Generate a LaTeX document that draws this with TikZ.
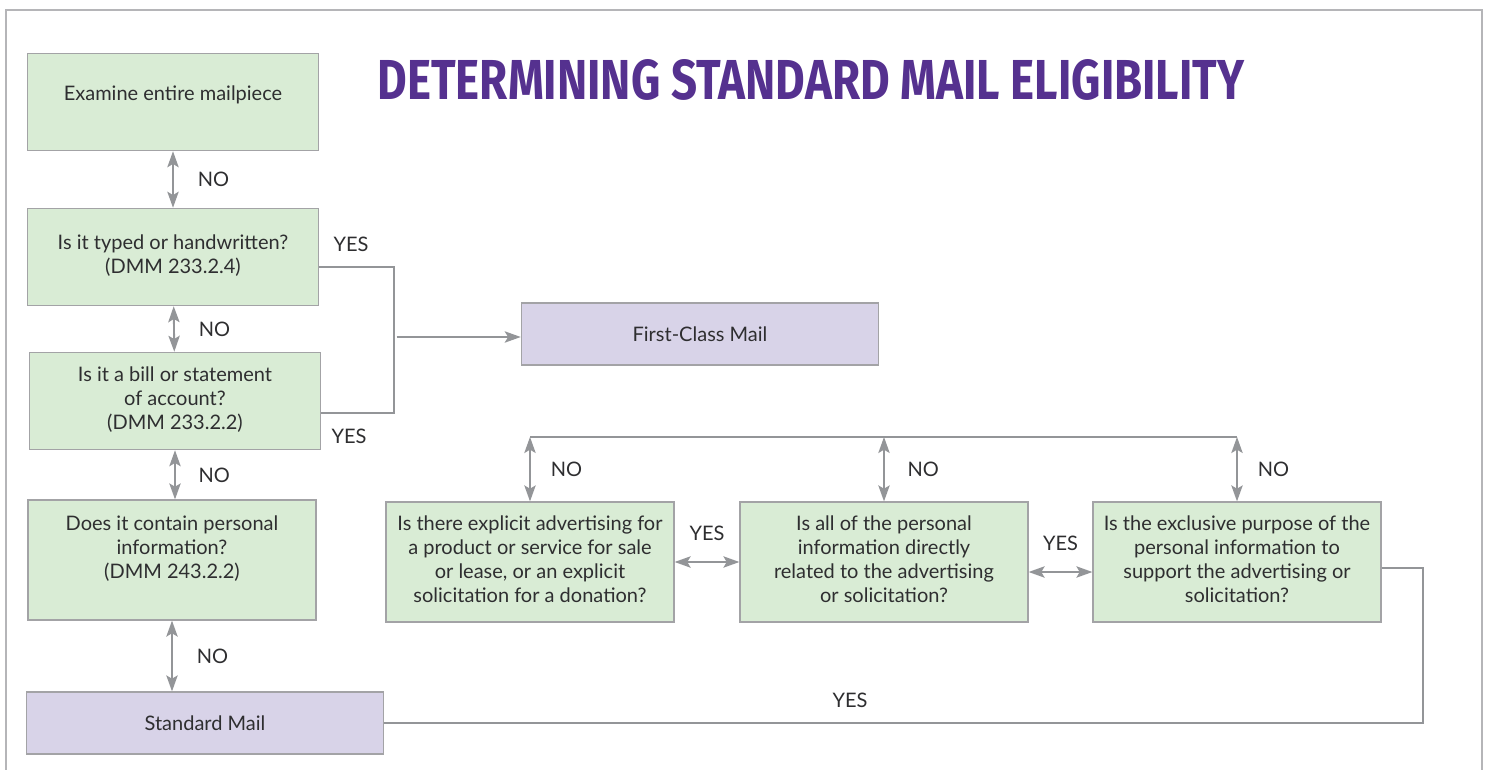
\documentclass[tikz,border=0pt]{standalone}
\usepackage{fontspec}
\setmainfont{Lato}
\newfontfamily\titlefont{Fira Sans}
\usepackage{tikz}
\usetikzlibrary{positioning}
\usetikzlibrary{arrows.meta}

\definecolor{qgreen}{HTML}{D9ECD5}
\definecolor{mailpurple}{HTML}{D8D3E8}
\definecolor{boxgray}{HTML}{A3A3A6}
\definecolor{linegray}{HTML}{939598}
\definecolor{titlepurple}{HTML}{55318F}
\definecolor{txtgray}{HTML}{2E2E30}

\begin{document}
\begin{tikzpicture}[x=0.75pt,y=-0.75pt,text=txtgray,
  qbox/.style={draw=boxgray,line width=0.9pt,fill=qgreen,inner sep=0pt,minimum width=218pt,minimum height=73pt},
  tallbox/.style={qbox,minimum width=216pt,minimum height=90pt},
  mailbox/.style={draw=boxgray,line width=0.9pt,fill=mailpurple,inner sep=0pt,minimum width=268pt,minimum height=46.5pt},
  conn/.style={draw=linegray,line width=1.4pt},
  twoway/.style={conn,{Stealth[length=12pt,width=8.5pt,inset=2.5pt]}-{Stealth[length=12pt,width=8.5pt,inset=2.5pt]}},
  oneway/.style={conn,-{Stealth[length=12pt,width=8.5pt,inset=2.5pt]}},
  answer/.style={inner sep=0pt}]
  \fontsize{15}{18}\selectfont
  \useasboundingbox (0,0) rectangle (1488,770);
  \draw[boxgray!80,line width=0.8pt] (6,770) -- (6,10) -- (1482,10) -- (1482,770);

  \node[answer,text=titlepurple](title) at (811,80) {\resizebox{650pt}{30pt}{\titlefont\bfseries DETERMINING STANDARD MAIL ELIGIBILITY}};

  % left column of questions
  \node[qbox](exam) at (173,102) {\begin{tabular}{c}
    Examine entire mailpiece \\[9pt]
  \end{tabular}};
  \node[qbox](typed) at (173,257) {\begin{tabular}{c}
    Is it typed or handwritten? \\
    (DMM 233.2.4)
  \end{tabular}};
  \node[qbox](bill) at (175,401) {\begin{tabular}{c}
    Is it a bill or statement \\
    of account? \\
    (DMM 233.2.2)
  \end{tabular}};
  \node[tallbox](personal) at (172,560) {\begin{tabular}{c}
    Does it contain personal \\
    information? \\
    (DMM 243.2.2) \\[15pt]
  \end{tabular}};
  \node[mailbox](stdmail) at (205,723) {Standard Mail};
  \node[mailbox](firstclass) at (700,334) {First-Class Mail};

  % questions along the bottom row
  \node[tallbox](advert) at (530,562) {\begin{tabular}{c}
    Is there explicit advertising for \\
    a product or service for sale \\
    or lease, or an explicit \\
    solicitation for a donation?
  \end{tabular}};
  \node[tallbox](related) at (884,562) {\begin{tabular}{c}
    Is all of the personal \\
    information directly \\
    related to the advertising \\
    or solicitation?
  \end{tabular}};
  \node[tallbox](purpose) at (1237,562) {\begin{tabular}{c}
    Is the exclusive purpose of the \\
    personal information to \\
    support the advertising or \\
    solicitation?
  \end{tabular}};

  \coordinate (yesjoin) at (394,337);
  \coordinate (nobus) at (0,437);

  \draw[twoway] (exam) -- node[answer,right=18pt] {NO} (typed);
  \draw[twoway] (typed) -- node[answer,right=18pt] {NO} (bill);
  \draw[twoway] (bill.south) -- node[answer,right=17pt] {NO} (bill.south |- personal.north);
  \draw[twoway] (personal.south) -- node[answer,right=18pt] {NO} (personal.south |- stdmail.north);

  \draw[conn] ([yshift=-7.5pt]typed.east) -| (yesjoin) |- ([yshift=-9pt]bill.east);
  \draw[oneway] ([xshift=2pt]yesjoin) -- (yesjoin -| firstclass.west);
  \node[answer] at (351,244) {YES};
  \node[answer] at (349,436) {YES};

  \draw[conn] (advert.north |- nobus) -- (purpose.north |- nobus);
  \draw[twoway] (advert.north |- nobus) -- node[answer,right=15pt] {NO} (advert.north);
  \draw[twoway] (related.north |- nobus) -- node[answer,right=17pt] {NO} (related.north);
  \draw[twoway] (purpose.north |- nobus) -- node[answer,right=15pt] {NO} (purpose.north);

  \draw[twoway] (advert) -- node[answer,above=15pt] {YES} (related);
  \draw[twoway] ([yshift=-7.5pt]related.east) -- node[answer,above=15pt] {YES} ([yshift=-7.5pt]purpose.west);

  \draw[conn] ([yshift=-4.5pt]purpose.east) -- ++(41,0) |- (stdmail.east);
  \node[answer] at (850,700) {YES};
\end{tikzpicture}
\end{document}
